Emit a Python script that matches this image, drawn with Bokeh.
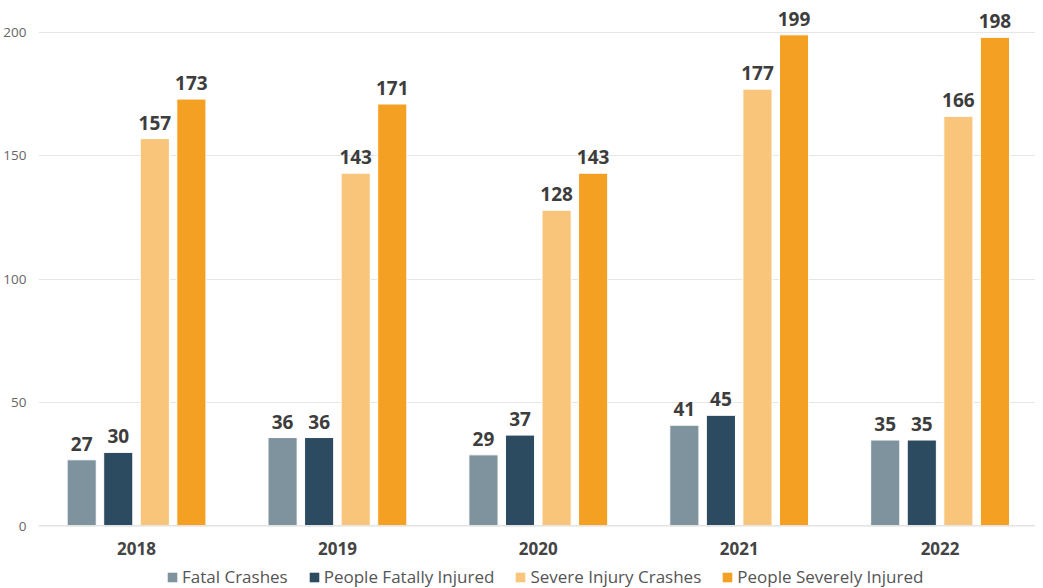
from bokeh.plotting import figure
from bokeh.layouts import column
from bokeh.models import ColumnDataSource, FixedTicker, Legend, LegendItem, Range1d, LabelSet
from bokeh.core.properties import value
from bokeh.embed import file_html
from bokeh.resources import INLINE

years = ["2018", "2019", "2020", "2021", "2022"]
fatal_crashes = [27, 36, 29, 41, 35]
people_fatally_injured = [30, 36, 37, 45, 35]
severe_injury_crashes = [157, 143, 128, 177, 166]
people_severely_injured = [173, 171, 143, 199, 198]

series = [
    ("Fatal Crashes", fatal_crashes, "#7f939f"),
    ("People Fatally Injured", people_fatally_injured, "#2d4b60"),
    ("Severe Injury Crashes", severe_injury_crashes, "#f9c57a"),
    ("People Severely Injured", people_severely_injured, "#f4a023"),
]

FONT = "Open Sans"
pitch = 0.182
bar_w = 0.145

p = figure(width=1035, height=562, output_backend="svg", toolbar_location=None,
           x_range=Range1d(-0.488, 4.475), y_range=Range1d(0, 212.9),
           min_border_left=28, min_border_right=0, min_border_top=0, min_border_bottom=36)
p.outline_line_color = None
p.background_fill_color = "white"

for i, (name, vals, color) in enumerate(series):
    off = (i - 1.5) * pitch
    xs = [k + off for k in range(len(years))]
    src = ColumnDataSource(dict(x=xs, top=vals, label=[str(v) for v in vals]))
    p.vbar(x="x", top="top", width=bar_w, source=src, fill_color=color,
           line_color="white", line_width=1)
    lbl = LabelSet(x="x", y="top", text="label", source=src, text_align="center",
                   text_baseline="bottom", y_offset=9, text_font=value(FONT),
                   text_font_style="bold", text_font_size="19px", text_color="#3d3d3d")
    p.add_layout(lbl)

# axes
p.xaxis.ticker = FixedTicker(ticks=list(range(len(years))))
p.xaxis.major_label_overrides = {i: y for i, y in enumerate(years)}
p.xaxis.axis_line_color = None
p.xaxis.major_tick_line_color = None
p.xaxis.minor_tick_line_color = None
p.xaxis.major_label_text_font = FONT
p.xaxis.major_label_text_font_style = "bold"
p.xaxis.major_label_text_font_size = "17px"
p.xaxis.major_label_text_color = "#444444"
p.xaxis.major_label_standoff = 9

p.yaxis.ticker = FixedTicker(ticks=[0, 50, 100, 150, 200])
p.yaxis.axis_line_color = None
p.yaxis.major_tick_line_color = None
p.yaxis.minor_tick_line_color = None
p.yaxis.major_label_text_font = FONT
p.yaxis.major_label_text_font_size = "13.5px"
p.yaxis.major_label_text_color = "#666666"
p.yaxis.major_label_standoff = 6

p.xgrid.grid_line_color = None
p.ygrid.grid_line_color = "#e6e6e6"
p.ygrid.grid_line_width = 1

# baseline
p.hspan(y=[0], line_color="#e3e3e3", line_width=3)

# legend in a separate strip below
lg = figure(width=1035, height=26, output_backend="svg", toolbar_location=None,
            x_range=Range1d(0, 1), y_range=Range1d(0, 1),
            min_border_left=28, min_border_right=0, min_border_top=0, min_border_bottom=0)
lg.outline_line_color = None
lg.axis.visible = False
lg.grid.visible = False
items = []
for name, vals, color in series:
    r = lg.vbar(x=[5], top=[1], width=0.1, fill_color=color, line_color=None)
    items.append(LegendItem(label=name, renderers=[r]))
legend = Legend(items=items, orientation="horizontal", location=(128, 0),
                label_text_font=FONT, label_text_font_size="17px",
                label_text_color="#555555", glyph_width=12, glyph_height=12,
                label_standoff=4, spacing=20, padding=0, margin=0,
                border_line_color=None, background_fill_alpha=0)
lg.add_layout(legend, "center")

layout = column(p, lg, spacing=0)
open("out.html", "w").write(file_html(layout, INLINE))
